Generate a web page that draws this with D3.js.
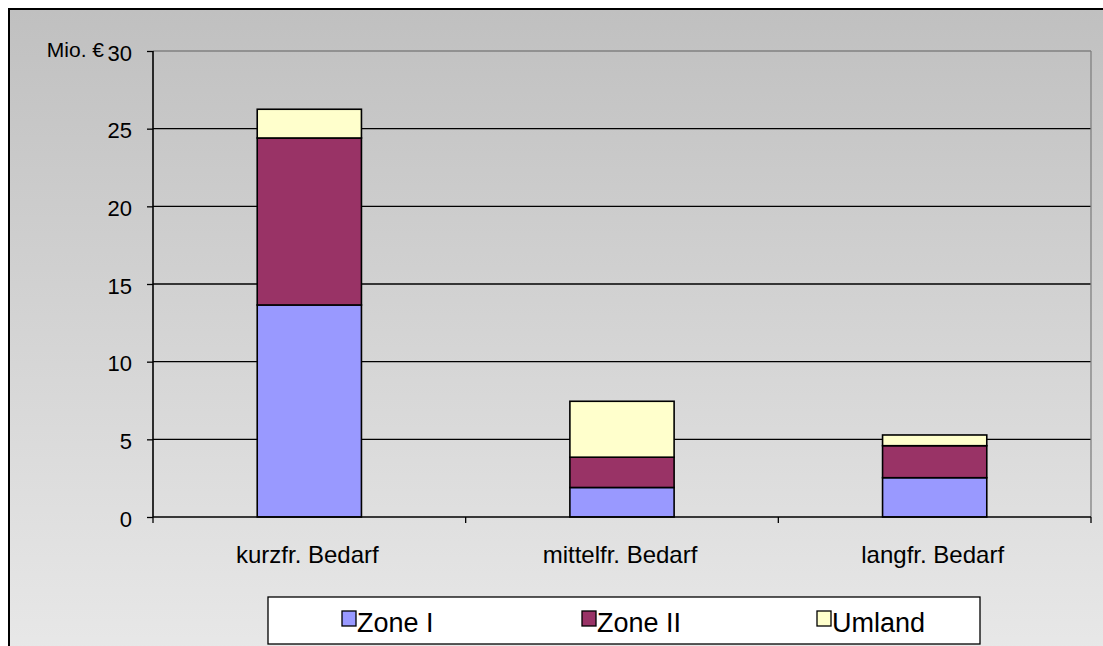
<!DOCTYPE html>
<html>
<head>
<meta charset="utf-8">
<script src="https://cdn.jsdelivr.net/npm/d3@7"></script>
<style>
  body { margin: 0; background: #fff; }
  svg { display: block; font-family: "Liberation Sans", Arial, sans-serif; }
</style>
</head>
<body>
<div id="chart"></div>
<script>
// data (Mio. €)
const categories = ["kurzfr. Bedarf", "mittelfr. Bedarf", "langfr. Bedarf"];
const seriesNames = ["Zone I", "Zone II", "Umland"];
const zone1 = [13.65, 1.9, 2.53];
const zone2 = [10.75, 1.95, 2.06];
const umland = [1.85, 3.6, 0.69];
const yTicks = [0, 5, 10, 15, 20, 25, 30];
const colors = ["#9999ff", "#993366", "#ffffcc"];

const width = 1103, height = 646;
const plot = { left: 153, top: 51, right: 1091, bottom: 517 };
const font = "Liberation Sans, Arial, sans-serif";

const rows = categories.map((c, i) => ({ cat: c, "Zone I": zone1[i], "Zone II": zone2[i], "Umland": umland[i] }));
const stacked = d3.stack().keys(seriesNames)(rows);

const svg = d3.select("#chart").append("svg")
    .attr("width", width)
    .attr("height", height);

// background gradient
const grad = svg.append("defs").append("linearGradient")
    .attr("id", "bg").attr("x1", 0).attr("y1", 0).attr("x2", 0).attr("y2", 1);
grad.append("stop").attr("offset", "0%").attr("stop-color", "#c0c0c0");
grad.append("stop").attr("offset", "100%").attr("stop-color", "#e8e8e8");

svg.append("rect")
    .attr("x", 9).attr("y", 9)
    .attr("width", width).attr("height", height)
    .attr("fill", "url(#bg)")
    .attr("stroke", "#000").attr("stroke-width", 2);

const x = d3.scaleBand().domain(categories).range([plot.left, plot.right]).paddingInner(0).paddingOuter(0);
const y = d3.scaleLinear().domain([0, 30]).range([plot.bottom, plot.top]);
const barW = x.bandwidth() / 3;

// gridlines
svg.append("g").selectAll("line")
    .data(yTicks.filter(t => t > 0))
    .enter().append("line")
    .attr("x1", plot.left).attr("x2", plot.right)
    .attr("y1", d => y(d)).attr("y2", d => y(d))
    .attr("stroke", d => d === 30 ? "#808080" : "#000")
    .attr("stroke-width", 1.3);

// right border of plot
svg.append("line")
    .attr("x1", plot.right).attr("x2", plot.right)
    .attr("y1", plot.top).attr("y2", plot.bottom)
    .attr("stroke", "#808080").attr("stroke-width", 1.3);

// bars
svg.append("g").selectAll("g")
    .data(stacked)
    .enter().append("g")
    .attr("fill", (d, i) => colors[i])
    .selectAll("rect")
    .data(d => d)
    .enter().append("rect")
    .attr("x", d => x(d.data.cat) + barW)
    .attr("width", barW)
    .attr("y", d => y(d[1]))
    .attr("height", d => y(d[0]) - y(d[1]))
    .attr("stroke", "#000")
    .attr("stroke-width", 1.6);

// y axis
const yAxis = svg.append("g")
    .attr("transform", `translate(${plot.left},0)`)
    .call(d3.axisLeft(y).tickValues(yTicks).tickSize(6).tickPadding(15));
yAxis.select(".domain").attr("stroke", "#000").attr("stroke-width", 1.6).attr("d", `M0,${plot.top}V${plot.bottom}`);
yAxis.selectAll(".tick line").attr("stroke", "#000").attr("stroke-width", 1.3);
yAxis.selectAll("text").attr("font-size", 22).attr("fill", "#000")
    .attr("dy", "0.42em")
    .attr("font-family", font);

// x axis
const xAxis = svg.append("g")
    .attr("transform", `translate(0,${plot.bottom})`)
    .call(d3.axisBottom(x).tickSize(0).tickPadding(0));
xAxis.select(".domain").remove();
xAxis.selectAll("text").attr("font-size", 24).attr("fill", "#000")
    .attr("x", -2).attr("y", 46).attr("dy", 0)
    .attr("font-family", font);
svg.append("line")
    .attr("x1", plot.left).attr("x2", plot.right)
    .attr("y1", plot.bottom).attr("y2", plot.bottom)
    .attr("stroke", "#000").attr("stroke-width", 1.6);
svg.append("g").selectAll("line")
    .data(categories.map(c => x(c)).concat([plot.right]))
    .enter().append("line")
    .attr("x1", d => d).attr("x2", d => d)
    .attr("y1", plot.bottom).attr("y2", plot.bottom + 6)
    .attr("stroke", "#000").attr("stroke-width", 1.3);

// unit label
svg.append("text")
    .attr("x", 104).attr("y", 57)
    .attr("text-anchor", "end")
    .attr("font-size", 21)
    .attr("font-family", font)
    .text("Mio. €");

// legend
const legend = svg.append("g");
legend.append("rect")
    .attr("x", 268).attr("y", 597)
    .attr("width", 712).attr("height", 47)
    .attr("fill", "#fff").attr("stroke", "#000").attr("stroke-width", 1.3);
const legX = [342, 582, 817];
const item = legend.selectAll(".item")
    .data(seriesNames)
    .enter().append("g")
    .attr("transform", (d, i) => `translate(${legX[i]},611)`);
item.append("rect")
    .attr("width", 14).attr("height", 15)
    .attr("fill", (d, i) => colors[i])
    .attr("stroke", "#000").attr("stroke-width", 1.3);
item.append("text")
    .attr("x", 15).attr("y", 21)
    .attr("font-size", 27)
    .attr("font-family", font)
    .text(d => d);
</script>
</body>
</html>
